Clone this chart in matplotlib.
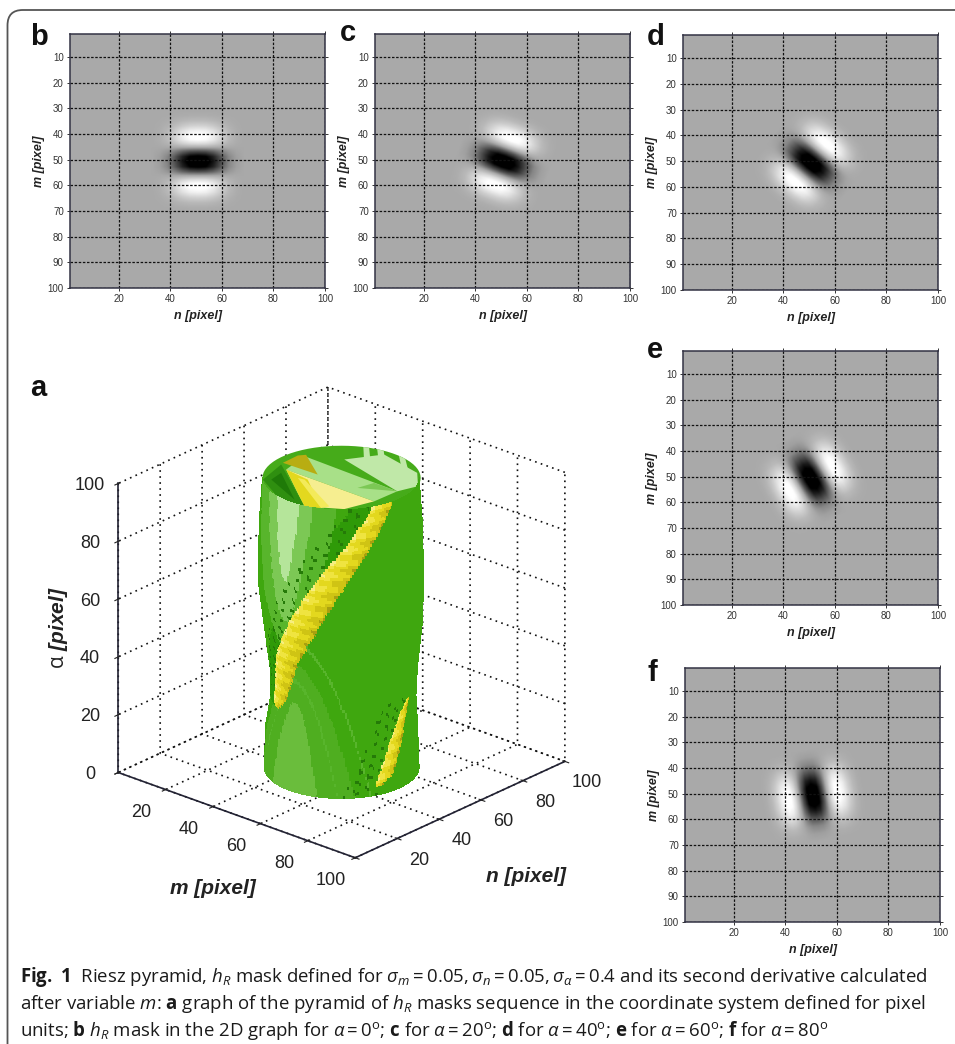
import numpy as np
import matplotlib
matplotlib.use('Agg')
import matplotlib.pyplot as plt
from matplotlib.patches import FancyBboxPatch
from matplotlib.transforms import ScaledTranslation
from matplotlib.colors import LinearSegmentedColormap, TwoSlopeNorm, to_rgb
from mpl_toolkits.mplot3d.art3d import Poly3DCollection

W, H = 955, 1044
cap_font, cap_size = 'Open Sans', 13.4
plt.rcParams['font.family'] = ['Liberation Sans', 'DejaVu Sans']
plt.rcParams['mathtext.fontset'] = 'custom'
plt.rcParams['mathtext.rm'] = cap_font
plt.rcParams['mathtext.it'] = cap_font + ':italic'
plt.rcParams['mathtext.bf'] = cap_font + ':bold'

# data
panel_names = ['b', 'c', 'd', 'e', 'f']
panel_angles = [0, 20, 40, 60, 80]
panel_boxes = [(70, 34, 325, 288), (375, 34, 630, 288), (683, 35, 938, 290),
               (683, 351, 938, 605), (685, 668, 940, 922)]
label_pos = [(30, 45), (340, 41), (647, 45), (647, 358), (647, 681)]
ticks_n = [20, 40, 60, 80, 100]
ticks_m = [10, 20, 30, 40, 50, 60, 70, 80, 90, 100]
# mask profile across and along the long axis of the dark core
cross_pos = [0, 2, 4, 5.5, 7, 8.5, 10, 12, 14, 16, 18, 20]
cross_val = [-1, -.9, -.45, 0, .25, .42, .46, .36, .2, .08, .02, 0]
along_pos = [0, 3, 6, 9, 12, 15, 18]
along_val = [1, .95, .75, .45, .18, .05, 0]

# 3D view
ticks_3d = [0, 20, 40, 60, 80, 100]
ticks_3d_lab = ['', '20', '40', '60', '80', '100']
ticks_z = [0, 20, 40, 60, 80, 100]
elev_3d, azim_3d = 24, -48.5
# outer radius of the body at each height, left and right outline
body_z = [0, 15, 25, 35, 50, 65, 85, 100]
left_r = [24.5, 23.9, 22.3, 22.6, 24.5, 26.4, 26, 25]
right_r = [24.5, 24, 23.5, 24, 25.5, 26, 25.5, 24.5]
# yellow ridges: height, angle from the front of the body (deg), half width (deg)
ridge_z = [25, 30, 44, 58, 73, 88, 100]
ridge_ang = [-65, -59, -47, -29, -10, 13, 32]
ridge_w = [4, 10, 12, 12, 11, 10, 9]
ridge2_z = [3, 6, 16, 25, 29]
ridge2_ang = [28, 35, 45, 56, 62]
ridge2_w = [2, 7, 7, 5, 2]
# terraces: (lowest/highest height, half width, colour level)
hollow_bands = [(47, 40, 2), (59, 22, 3), (73, 11, 4)]
lobe_bands = [(45, 50, 5), (30, 22, 6)]
lobe_lines = [(54, 62), (38, 38)]
greens = ['#2f9a08', '#3fa70f', '#58b52c', '#7cc855', '#b5e59a', '#4fae20', '#6abd3c']
yellows = ['#a8a010', '#cfc414', '#e3d81e', '#efe440', '#f6ee80']
# top opening: pieces as (angle from front, fraction of radius)
cap_full = [(a, 1.0) for a in range(-180, 180, 5)]
cap_light = [(176.6, .574), (143.6, .905), (99.3, .969), (75.1, 1.0), (59.4, .818)]
cap_stripe1 = [(164, 1.0), (159.6, 1.0), (138.5, .557), (148.7, .549)]
cap_stripe2 = [(153.2, 1.0), (147.8, 1.0), (119.2, .64), (127.6, .6)]
cap_stripe3 = [(133.5, 1.0), (126.3, 1.0), (100.4, .865), (105.2, .795)]
cap_strip = [(-145.2, .824), (59.4, .818), (29.4, .837), (-110.4, .747)]
cap_arc = [(32.8, .37), (69.2, .44), (59.4, .818)]
cap_yellow = [(-110.4, .747), (29.4, .837), (2, .97), (-28, 1.0)]
cap_yellow2 = [(-110.4, .747), (-28, 1.0), (-15.5, .973), (-83, .431)]
cap_yellow3 = [(-90, .553), (-83.7, .47), (-9.9, .9), (-15.5, .973)]
cap_olive = [(-122.3, .878), (-141.6, .89), (-148, .847), (-109, .319)]
cap_dark = [(-87, .995), (-118.7, .87), (-28, 1.0), (-37.4, 1.0), (-54.2, 1.0)]
cap_dark2 = [(-86.7, .89), (-101.6, .78), (-41.3, .9)]
cap_pieces = [cap_full, cap_light, cap_stripe1, cap_stripe2, cap_stripe3, cap_strip, cap_arc,
              cap_yellow, cap_yellow2, cap_yellow3, cap_olive, cap_dark, cap_dark2]
cap_colors = ['#46ab1a', '#c0e8a8', '#c0e8a8', '#c0e8a8', '#c0e8a8', '#a8e088', '#7cc855',
              '#f6ee90', '#e3d81e', '#f3ea5a', '#b8ad12', '#2f8f10', '#1f7a08']

caption = [
    r'$\mathbf{Fig.\ 1}$  Riesz pyramid, $h_R$ mask defined for $\sigma_m=0.05,\sigma_n=0.05,\sigma_\alpha=0.4$ and its second derivative calculated',
    r'after variable $m$: $\mathbf{a}$ graph of the pyramid of $h_R$ masks sequence in the coordinate system defined for pixel',
    r'units; $\mathbf{b}$ $h_R$ mask in the 2D graph for $\alpha=0^{\mathrm{o}}$; $\mathbf{c}$ for $\alpha=20^{\mathrm{o}}$; $\mathbf{d}$ for $\alpha=40^{\mathrm{o}}$; $\mathbf{e}$ for $\alpha=60^{\mathrm{o}}$; $\mathbf{f}$ for $\alpha=80^{\mathrm{o}}$',
]
caption_y = [982, 1009, 1036]


def add_ax(box):
    x0, y0, x1, y1 = box
    return fig.add_axes([x0 / W, 1 - y1 / H, (x1 - x0) / W, (y1 - y0) / H])


def mask_image(angle):
    n, m = np.meshgrid(np.arange(1, 100.01, 0.25), np.arange(1, 100.01, 0.25))
    a = np.deg2rad(angle)
    u = (n - 50.7) * np.cos(a) + (m - 50.7) * np.sin(a)
    v = -(n - 50.7) * np.sin(a) + (m - 50.7) * np.cos(a)
    return np.interp(np.abs(v), cross_pos, cross_val) * np.interp(np.abs(u), along_pos, along_val)


def shift(dx, dy):
    # pixel offset on top of the 3D axes transform
    return ax3.transData + ScaledTranslation(dx / 100, dy / 100, fig.dpi_scale_trans)


def shift_tick_labels(axis, dx, dy):
    # mplot3d resets the tick transforms when it fetches the ticks, so wrap that call
    get_ticks = axis.get_major_ticks

    def shifted(numticks=None):
        ticks = get_ticks(numticks)
        for t in ticks:
            t.label1.set_transform(shift(dx, dy))
        return ticks
    axis.get_major_ticks = shifted


fig = plt.figure(figsize=(W / 100, H / 100), dpi=100, facecolor='white')
cmap = LinearSegmentedColormap.from_list('mask', ['#000000', '#a9a9a9', '#ffffff'])

# frame around the figure, runs off the page right and below
fig.add_artist(FancyBboxPatch((7.5 / W, -40 / H), 1000 / W, (1034 + 40) / H,
                              boxstyle='round,pad=0,rounding_size=0.016', transform=fig.transFigure,
                              fill=False, edgecolor='#555555', linewidth=1.3, mutation_aspect=W / H))

for name, ang, box, lp in zip(panel_names, panel_angles, panel_boxes, label_pos):
    ax = add_ax(box)
    ax.imshow(mask_image(ang), cmap=cmap, norm=TwoSlopeNorm(0, -0.85, 0.42),
              extent=[1, 100, 100, 1], aspect='auto', interpolation='bilinear')
    ax.set_xticks(ticks_n)
    ax.set_yticks(ticks_m)
    ax.grid(True, color='#111111', linestyle=(0, (2, 1.3)), linewidth=0.9)
    ax.tick_params(length=2, width=0.7, labelsize=7, colors='#333333', pad=2.5, top=True, right=True)
    ax.set_xlabel('n [pixel]', fontsize=9, style='italic', fontweight='bold', labelpad=4, color='#222222')
    ax.set_ylabel('m [pixel]', fontsize=9, style='italic', fontweight='bold', labelpad=2, color='#222222')
    for s in ax.spines.values():
        s.set_linewidth(1.1)
        s.set_color('#333344')
    fig.text(lp[0] / W, 1 - lp[1] / H, name, fontsize=21, fontweight='bold', color='#111111',
             ha='left', va='baseline')

fig.text(30 / W, 1 - 396 / H, 'a', fontsize=21, fontweight='bold', color='#111111')

# 3D panel
ax3 = fig.add_axes([14 / W, 1 - 910 / H, 640 / W, 560 / H], projection='3d', proj_type='ortho',
                   computed_zorder=False)
ax3.view_init(elev=elev_3d, azim=azim_3d)
ax3.set_box_aspect((1, 1, 1), zoom=0.95)
ax3.set_xlim(0, 100)
ax3.set_ylim(0, 100)
ax3.set_zlim(0, 100)
ax3.patch.set_alpha(0)
for axis in (ax3.xaxis, ax3.yaxis, ax3.zaxis):
    axis.pane.set_facecolor((1, 1, 1, 0))
    axis.pane.set_edgecolor((1, 1, 1, 0))
    axis._axinfo['grid'].update(color='#111111', linestyle=(0, (1, 2.6)), linewidth=1.2)
    axis.line.set_color('#222233')
    axis.line.set_linewidth(1.2)
ax3.set_xticks(ticks_3d, ticks_3d_lab)
ax3.set_yticks(ticks_3d, ticks_3d_lab)
ax3.set_zticks(ticks_z)
ax3.tick_params(labelsize=13, colors='#222222', pad=1)
ax3.zaxis.set_ticks_position('lower')
shift_tick_labels(ax3.xaxis, -15, 2)
shift_tick_labels(ax3.yaxis, 12, 3)
shift_tick_labels(ax3.zaxis, -9, 7)
# mplot3d places its axis labels by itself, these sit where the picture has them
fig.text(213 / W, 1 - 888 / H, 'm [pixel]', fontsize=15, style='italic', fontweight='bold', color='#222222',
         ha='center', va='center')
fig.text(526 / W, 1 - 876 / H, 'n [pixel]', fontsize=15, style='italic', fontweight='bold', color='#222222',
         ha='center', va='center')
fig.text(59 / W, 1 - 628 / H, r'$\mathrm{\alpha}$ [pixel]', fontsize=15, style='italic', fontweight='bold',
         color='#222222', rotation=90, ha='center', va='center')

# body: only the half turned to the viewer is seen, the rest is closed by the top pieces
ang = np.arange(-92, 92.01, 1.5)
zz = np.arange(0, 100.01, 1.0)
A, Z = np.meshgrid(ang, zz)
w = np.clip((A + 90) / 180, 0, 1)
R = (1 - w) * np.interp(Z, body_z, left_r) + w * np.interp(Z, body_z, right_r)
front = np.deg2rad(azim_3d)
X = 50 + R * np.cos(front + np.deg2rad(A))
Y = 50 + R * np.sin(front + np.deg2rad(A))

Ac = 0.5 * (A[:-1, :-1] + A[1:, 1:])
Zc = 0.5 * (Z[:-1, :-1] + Z[1:, 1:])
g = np.array([to_rgb(c) for c in greens])
y = np.array([to_rgb(c) for c in yellows])
level = np.ones(Ac.shape, dtype=int)
# terraces on the lower lobe, arches round the lower left
for tip, half, lev in lobe_bands:
    level[Zc < tip * (1 - ((Ac + 40) / half) ** 2)] = lev
for tip, half in lobe_lines:
    level[np.abs(Zc - tip * (1 - ((Ac + 40) / half) ** 2)) < 0.8] = 2
ridge_mid = np.interp(Zc, ridge_z, ridge_ang)
above = Ac < ridge_mid
# terraces on the hollow above the ridge
level[above & (Zc > ridge_z[0])] = 1
level[above & (Zc > ridge_z[0]) & (Ac > ridge_mid - 26)] = 0
for tip, half, lev in hollow_bands:
    level[above & (Zc > tip + (100 - tip) * ((Ac + 43) / half) ** 2)] = lev
col = g[level]
# small dark dashes near the ridges
dash = (np.sin(Zc * 1.5 + Ac * 0.5) > 0.7) & (np.sin(Ac * 0.8 - Zc * 0.4) > 0)
near = above & (Ac > ridge_mid - 30) & (Zc > ridge_z[0])
col[near & dash] = to_rgb('#257a08')
r2_mid = np.interp(Zc, ridge2_z, ridge2_ang)
low = (Ac > r2_mid - 28) & (Zc < 30) & (Ac < r2_mid)
col[low & dash] = to_rgb('#257a08')
# yellow ridges
for rz, ra, rw in ((ridge_z, ridge_ang, ridge_w), (ridge2_z, ridge2_ang, ridge2_w)):
    mid = np.interp(Zc, rz, ra)
    wid = np.interp(Zc, rz, rw)
    on = (np.abs(Ac - mid) < wid) & (Zc >= rz[0]) & (Zc <= rz[-1])
    t = (Ac - mid) / wid
    yl = np.clip(np.round(2.0 - 1.3 * t + 0.6 * np.sin(Zc * 1.4)), 0, 4).astype(int)
    col[on] = y[yl[on]]

# top pieces lie in the plane of the top rim
r_top = 25
for piece, c in zip(cap_pieces, cap_colors):
    pts = [(50 + r_top * f * np.cos(front + np.deg2rad(a)), 50 + r_top * f * np.sin(front + np.deg2rad(a)), 100)
           for a, f in piece]
    ax3.add_collection3d(Poly3DCollection([pts], facecolors=c, edgecolors='none', zorder=2))

ax3.plot_surface(X, Y, Z, facecolors=col, rstride=1, cstride=1, shade=False, linewidth=0,
                 antialiased=False, zorder=3)

for line, yy in zip(caption, caption_y):
    fig.text(20 / W, 1 - yy / H, line, fontsize=cap_size, color='#1a1a1a', family=cap_font,
             ha='left', va='baseline')

fig.savefig('out.png', dpi=100)
